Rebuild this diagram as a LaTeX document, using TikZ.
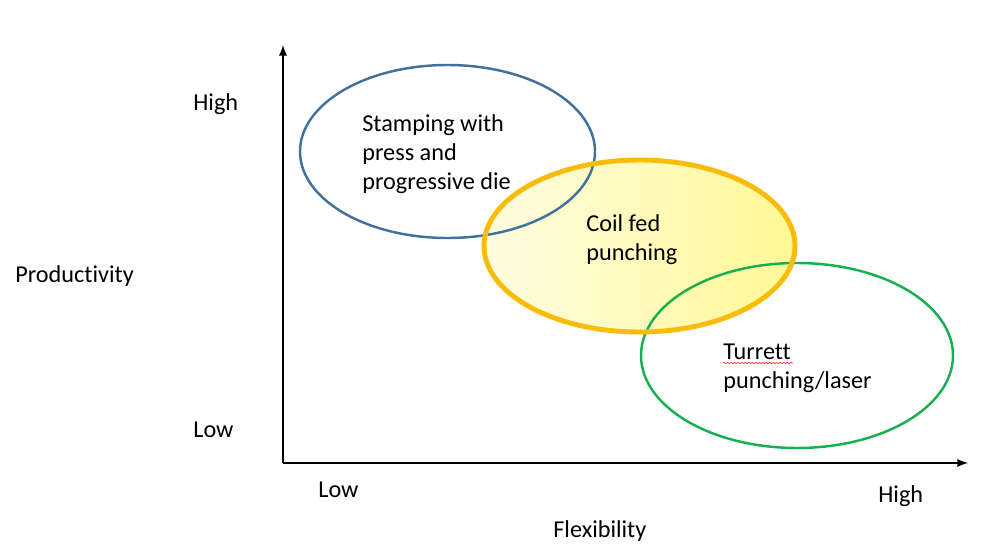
\documentclass[tikz,border=0pt]{standalone}
\usepackage{fontspec}
\setmainfont{Carlito}[Ligatures=NoCommon]
\usepackage{tikz}
\usetikzlibrary{decorations.pathmorphing}

\definecolor{stampblue}{RGB}{65,113,156}
\definecolor{coilgold}{RGB}{250,188,10}
\definecolor{coilpale}{RGB}{255,252,225}
\definecolor{coilyellow}{RGB}{255,248,150}
\definecolor{turretgreen}{RGB}{22,176,80}

\begin{document}
\begin{tikzpicture}[font=\fontsize{13.8pt}{16.4pt}\selectfont,
  label/.style={anchor=base west, inner sep=0pt, align=left}]
\useasboundingbox (0,0) rectangle (20,11.1);

% Achsen
\coordinate (O) at (5.66,1.84);
\coordinate (ytop) at (5.66,10.20);
\coordinate (xend) at (19.36,1.84);
\draw[-latex, line width=1.1pt] (O) -- (ytop); % y-Achse
\draw[-latex, line width=1.1pt] (O) -- (xend); % x-Achse

% Gelber Bereich (Fuellung)
\shade[left color=coilpale, right color=coilyellow] (12.79,6.18) ellipse [x radius=3.11, y radius=1.72];

% Blaue Ellipse (oben links)
\draw[stampblue, line width=1.4pt] (8.95,8.07) ellipse [x radius=2.95, y radius=1.73];

% Gruene Ellipse (unten rechts)
\draw[turretgreen, line width=1.4pt] (15.94,3.99) ellipse [x radius=3.12, y radius=1.85];

% Gelber Rand
\draw[coilgold, line width=2.8pt] (12.79,6.18) ellipse [x radius=3.11, y radius=1.72];

% Beschriftungen in den Ellipsen (base = letzte Zeile)
\node[label] (stamping) at (7.24,7.32) {Stamping with\\press and\\progressive die};
\node[label] (coil) at (11.72,5.90) {Coil fed\\punching};
\node[label] (turret) at (14.46,3.34) {Turrett\\punching/laser};
\draw[red!80, line width=0.4pt, decorate, decoration={snake, amplitude=0.4pt, segment length=2pt}] (14.46,3.84) -- (15.86,3.84);

% Achsenbeschriftungen
\node[label] (yhigh) at (3.86,8.90) {High};
\node[label] (ylow) at (3.86,2.36) {Low};
\node[label] (ylabel) at (0.30,5.46) {Productivity};
\node[label] (xlow) at (6.36,1.16) {Low};
\node[label] (xhigh) at (17.56,1.06) {High};
\node[label] (xlabel) at (11.06,0.36) {Flexibility};

\end{tikzpicture}
\end{document}
